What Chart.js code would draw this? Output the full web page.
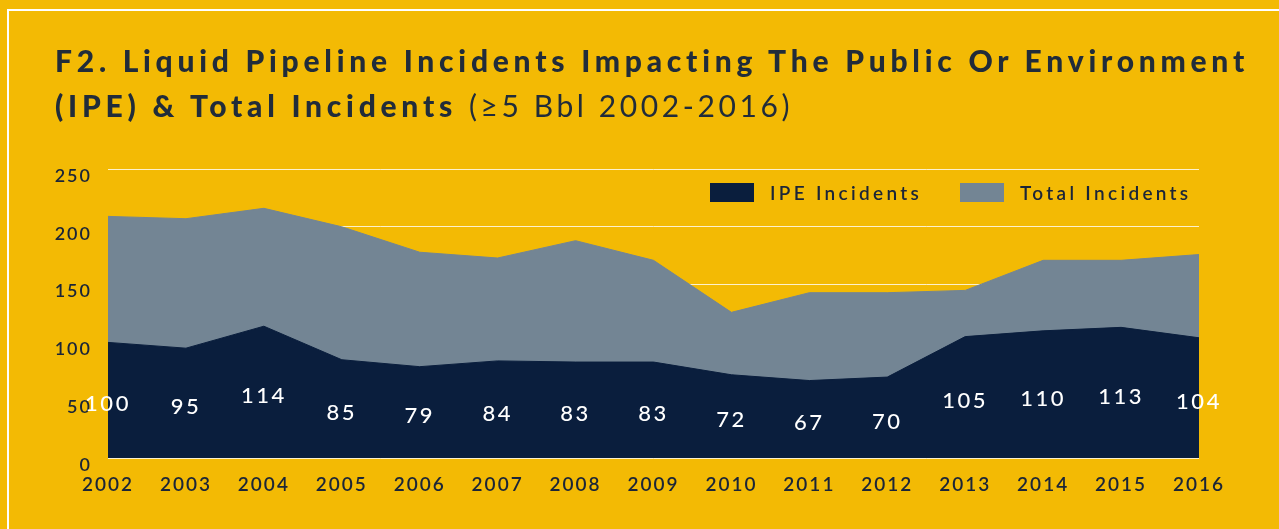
<!DOCTYPE html>
<html>
<head>
<meta charset="utf-8">
<script src="https://cdn.jsdelivr.net/npm/chart.js@4.4.1/dist/chart.umd.min.js"></script>
<style>
    html, body {
        margin: 0;
        padding: 0;
        width: 1279px;
        height: 529px;
        overflow: hidden;
        background: #F3BA04;
        font-family: Lato, sans-serif;
    }
    #frame {
        position: absolute;
        left: 7px;
        top: 9px;
        width: 1400px;
        height: 700px;
        border: 2px solid #fff;
        box-sizing: border-box;
    }
    #title {
        position: absolute;
        left: 55px;
        top: 38px;
        margin: 0;
        font-size: 30px;
        line-height: 45px;
        font-weight: 900;
        letter-spacing: 4.75px;
        color: #212C3A;
        white-space: nowrap;
    }
    #title .sub {
        font-weight: 400;
        letter-spacing: 3.6px;
    }
    #legend {
        position: absolute;
        left: 710px;
        top: 181px;
        display: flex;
        align-items: center;
        font-size: 19px;
        font-weight: 600;
        letter-spacing: 3.3px;
        color: #1B2538;
    }
    #legend .item { display: flex; align-items: center; margin-right: 38px; }
    #legend .box { width: 44px; height: 19px; margin-right: 16px; }
    #wrap { position: absolute; left: 0; top: 0; width: 1279px; height: 529px; }
</style>
</head>
<body>
<div id="frame"></div>
<div id="wrap"><canvas id="incidentsChart"></canvas></div>
<h1 id="title">F2. Liquid Pipeline Incidents Impacting The Public Or Environment<br>(IPE) &amp; Total Incidents <span class="sub">(≥5 Bbl 2002-2016)</span></h1>
<div id="legend"></div>

<script>
// Chart data
const years = ['2002', '2003', '2004', '2005', '2006', '2007', '2008', '2009',
               '2010', '2011', '2012', '2013', '2014', '2015', '2016'];
const ipeIncidents = [100, 95, 114, 85, 79, 84, 83, 83, 72, 67, 70, 105, 110, 113, 104];
const totalIncidents = [209, 207, 216, 200, 178, 173, 188, 171, 126, 143, 143, 145, 171, 171, 176];
const yTicks = [0, 50, 100, 150, 200, 250];
const seriesLabels = ['IPE Incidents', 'Total Incidents'];
const seriesColors = ['#0A1E3D', '#738594'];

// Canvas letter spacing for the axis labels
const spacingPlugin = {
    id: 'spacing',
    beforeDraw(chart) {
        chart.ctx.letterSpacing = '2px';
    }
};

// White value labels inside the IPE area
const valueLabels = {
    id: 'valueLabels',
    afterDatasetsDraw(chart) {
        const ctx = chart.ctx;
        const x = chart.scales.x;
        const y = chart.scales.y;
        ctx.save();
        ctx.font = '500 22px Lato';
        ctx.letterSpacing = '2.5px';
        ctx.fillStyle = '#ffffff';
        ctx.textAlign = 'center';
        ctx.textBaseline = 'middle';
        ipeIncidents.forEach((v, i) => {
            ctx.fillText(String(v), x.getPixelForValue(i), y.getPixelForValue(v / 2) + 4);
        });
        ctx.restore();
    }
};

const chart = new Chart(document.getElementById('incidentsChart'), {
    type: 'line',
    data: {
        labels: years,
        datasets: [
            {
                label: seriesLabels[0],
                data: ipeIncidents,
                backgroundColor: seriesColors[0],
                borderColor: seriesColors[0],
                borderWidth: 1,
                fill: 'origin',
                pointRadius: 0,
                tension: 0
            },
            {
                label: seriesLabels[1],
                data: totalIncidents,
                backgroundColor: seriesColors[1],
                borderColor: seriesColors[1],
                borderWidth: 1,
                fill: 'origin',
                pointRadius: 0,
                tension: 0
            }
        ]
    },
    options: {
        responsive: true,
        maintainAspectRatio: false,
        animation: false,
        layout: {
            padding: { left: 0, right: 80, top: 169, bottom: 0 }
        },
        scales: {
            x: {
                offset: false,
                grid: { display: false, drawTicks: false },
                border: { display: false },
                ticks: {
                    color: '#1B2538',
                    padding: 15,
                    maxRotation: 0,
                    autoSkip: false,
                    font: { family: 'Lato', size: 19, weight: '600' }
                },
                afterFit: (scale) => { scale.height = 71; }
            },
            y: {
                min: 0,
                max: 250,
                grid: { color: 'rgba(255,255,255,0.8)', lineWidth: 1, drawTicks: false },
                border: { display: false },
                ticks: {
                    color: '#1B2538',
                    padding: 16,
                    labelOffset: 7,
                    font: { family: 'Lato', size: 18, weight: '600' }
                },
                afterBuildTicks: (scale) => { scale.ticks = yTicks.map(v => ({ value: v })); },
                afterFit: (scale) => { scale.width = 108; }
            }
        },
        plugins: {
            legend: { display: false },
            tooltip: { enabled: false }
        }
    },
    plugins: [spacingPlugin, valueLabels]
});

// Build HTML legend from the dataset labels
document.getElementById('legend').innerHTML = chart.data.datasets.map(ds => `
    <div class="item"><span class="box" style="background:${ds.backgroundColor}"></span><span>${ds.label}</span></div>
`).join('');
</script>
</body>
</html>
